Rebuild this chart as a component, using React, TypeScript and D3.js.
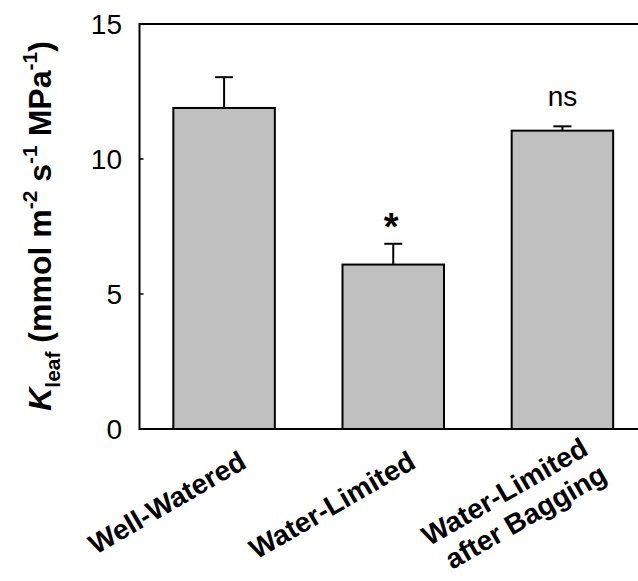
import React from "react";
import * as d3 from "d3";

const categories = ["Well-Watered", "Water-Limited", "Water-Limited\nafter Bagging"];
const values = [11.89, 6.09, 11.05];
const errors = [1.14, 0.77, 0.16];
const annotations = ["", "*", "ns"];
const yTicks = [0, 5, 10, 15];

const W = 638;
const H = 581;
const left = 139.5;
const right = 647;
const top = 24;
const bottom = 429;
const FONT = "Arial, 'Liberation Sans', Helvetica, sans-serif";

export default function App() {
  const x = d3.scaleBand<string>().domain(categories).range([left, right]).paddingInner(0.4).paddingOuter(0.2);
  const y = d3.scaleLinear().domain([0, 15]).range([bottom, top]);
  const bw = x.bandwidth();
  return (
    <svg width={W} height={H} style={{ position: "absolute", left: 0, top: 0 }} fontFamily={FONT}>
      <rect x={0} y={0} width={W} height={H} fill="#fff" />
      {categories.map((c, i) => {
        const x0 = x(c)!;
        const cx = x0 + bw / 2;
        const yTop = y(values[i]);
        const yErr = y(values[i] + errors[i]);
        return (
          <g key={c}>
            <line x1={cx} x2={cx} y1={yTop} y2={yErr} stroke="#000" strokeWidth={2} />
            <line x1={cx - 9} x2={cx + 9} y1={yErr} y2={yErr} stroke="#000" strokeWidth={2} />
            <rect x={x0} y={yTop} width={bw} height={bottom - yTop} fill="#c0c0c0" stroke="#000" strokeWidth={2} />
            {annotations[i] === "*" && (
              <text x={cx - 2} y={yErr - 4} textAnchor="middle" fontSize={38} fontWeight="bold">*</text>
            )}
            {annotations[i] === "ns" && (
              <text x={cx} y={yErr - 20} textAnchor="middle" fontSize={28}>ns</text>
            )}
          </g>
        );
      })}
      {/* frame */}
      <path d={`M${right},${top}H${left}V${bottom}H${right}`} fill="none" stroke="#000" strokeWidth={2} />
      {yTicks.map((t) => (
        <g key={t}>
          <line x1={left} x2={left + 4} y1={y(t)} y2={y(t)} stroke="#000" strokeWidth={1.5} />
          <text x={122} y={y(t)} dy="0.36em" textAnchor="end" fontSize={28}>{t}</text>
        </g>
      ))}
      {/* x labels */}
      {categories.map((c, i) => {
        const cx = x(c)! + bw / 2;
        const lines = c.split("\n");
        if (lines.length === 1) {
          return (
            <text key={c} transform={`translate(${cx + 24},${bottom + 38}) rotate(-30)`} textAnchor="end" fontSize={28} fontWeight="bold">{c}</text>
          );
        }
        return (
          <g key={c}>
            <text transform={`translate(${cx - 53},${500}) rotate(-30)`} textAnchor="middle" fontSize={28} fontWeight="bold">{lines[0]}</text>
            <text transform={`translate(${cx - 32},${525}) rotate(-30)`} textAnchor="middle" fontSize={28} fontWeight="bold">{lines[1]}</text>
          </g>
        );
      })}
      {/* y label */}
      <text transform={`translate(51,${226}) rotate(-90)`} textAnchor="middle" fontSize={32} fontWeight="bold">
        <tspan fontStyle="italic">K</tspan>
        <tspan fontSize={21} dy={9}>leaf</tspan>
        <tspan dy={-9}> (mmol m</tspan>
        <tspan fontSize={21} dy={-14}>-2</tspan>
        <tspan dy={14}> s</tspan>
        <tspan fontSize={21} dy={-14}>-1</tspan>
        <tspan dy={14}> MPa</tspan>
        <tspan fontSize={21} dy={-14}>-1</tspan>
        <tspan dy={14}>)</tspan>
      </text>
    </svg>
  );
}
